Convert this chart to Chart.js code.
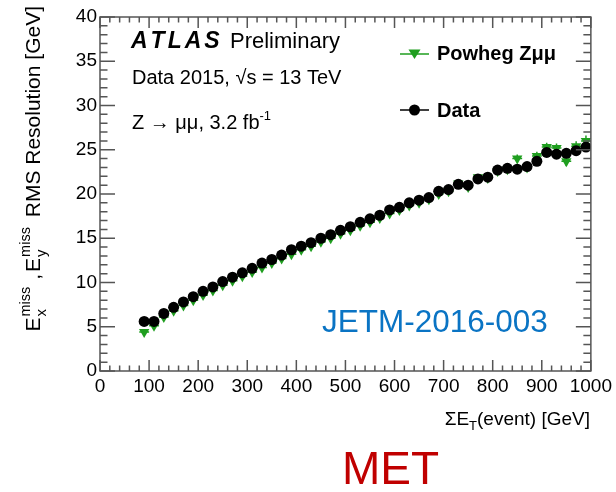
<!DOCTYPE html>
<html>
<head>
<meta charset="utf-8">
<script src="https://cdn.jsdelivr.net/npm/chart.js@4"></script>
<style>
  html, body { margin: 0; padding: 0; background: #fff; }
  #wrap { width: 616px; height: 492px; }
</style>
</head>
<body>
<div id="wrap"><canvas id="metChart" width="616" height="492"></canvas></div>
<script>
/* ========= DATA ========= */
const sumEt = [90, 110, 130, 150, 170, 190, 210, 230, 250, 270, 290, 310, 330, 350, 370, 390,
  410, 430, 450, 470, 490, 510, 530, 550, 570, 590, 610, 630, 650, 670, 690, 710, 730, 750,
  770, 790, 810, 830, 850, 870, 890, 910, 930, 950, 970, 990];

const dataRms = [5.6, 5.6, 6.5, 7.2, 7.8, 8.4, 9.0, 9.5, 10.1, 10.6, 11.1, 11.6, 12.2, 12.6, 13.1, 13.7,
  14.1, 14.5, 15.0, 15.4, 15.9, 16.3, 16.8, 17.2, 17.6, 18.2, 18.5, 19.0, 19.3, 19.6, 20.3, 20.5, 21.1, 21.0,
  21.7, 21.9, 22.7, 22.9, 22.8, 23.1, 23.7, 24.7, 24.5, 24.6, 24.9, 25.3];
const dataErr = [0.05, 0.05, 0.05, 0.05, 0.05, 0.05, 0.05, 0.05, 0.05, 0.06, 0.06, 0.06, 0.07, 0.07, 0.07, 0.08,
  0.08, 0.08, 0.09, 0.09, 0.1, 0.1, 0.1, 0.11, 0.12, 0.12, 0.13, 0.14, 0.14, 0.15, 0.16, 0.17, 0.18, 0.19,
  0.2, 0.21, 0.22, 0.23, 0.24, 0.25, 0.26, 0.28, 0.29, 0.3, 0.31, 0.33];

const mcRms = [4.4, 5.1, 6.1, 6.8, 7.4, 8.0, 8.6, 9.1, 9.7, 10.2, 10.7, 11.2, 11.7, 12.2, 12.7, 13.2,
  13.7, 14.1, 14.6, 15.0, 15.5, 15.9, 16.4, 16.8, 17.3, 17.8, 18.2, 18.7, 19.0, 19.4, 20.0, 20.3, 21.2, 20.8,
  21.9, 21.8, 22.6, 22.8, 24.0, 23.0, 24.3, 25.3, 25.2, 23.7, 25.4, 26.0];
const mcErr = [0.2, 0.15, 0.12, 0.12, 0.12, 0.12, 0.12, 0.12, 0.12, 0.13, 0.13, 0.13, 0.14, 0.14, 0.15, 0.15,
  0.16, 0.16, 0.17, 0.18, 0.18, 0.19, 0.2, 0.21, 0.22, 0.23, 0.24, 0.25, 0.26, 0.27, 0.28, 0.3, 0.31, 0.33,
  0.35, 0.37, 0.39, 0.41, 0.45, 0.45, 0.48, 0.5, 0.5, 0.55, 0.55, 0.6];

const binHalf = 10;
const xTickStep = 100;
const yTickStep = 5;

const FONT = "'Liberation Sans', Arial, Helvetica, sans-serif";
const GREEN = "#1f9e1f";
const FRAME = "#555";

/* ========= HELPERS ========= */
// text runs {t, size, bold, italic, dx, dy, gap, ls, stay} drawn left to right
function setFont(ctx, p) {
  ctx.font = (p.italic ? "italic " : "") + (p.bold ? "bold " : "") + p.size + "px " + FONT;
}
function partWidth(ctx, p) {
  if (p.stay) return 0; // subscript under a following superscript
  setFont(ctx, p);
  return ctx.measureText(p.t).width + (p.ls || 0) * (p.t.length - 1);
}
function runWidth(ctx, parts) {
  return parts.reduce((w, p) => w + partWidth(ctx, p) + (p.gap || 0), 0);
}
function drawRuns(ctx, parts, x, y, color) {
  ctx.fillStyle = color;
  ctx.textBaseline = "alphabetic";
  ctx.textAlign = "left";
  for (const p of parts) {
    setFont(ctx, p);
    if (p.ls) {
      let cx = x + (p.dx || 0);
      for (const ch of p.t) {
        ctx.fillText(ch, cx, y + (p.dy || 0));
        cx += ctx.measureText(ch).width + p.ls;
      }
    } else {
      ctx.fillText(p.t, x + (p.dx || 0), y + (p.dy || 0));
    }
    x += partWidth(ctx, p) + (p.gap || 0);
  }
}

/* ========= ERROR BARS ========= */
const errorBars = {
  id: "errorBars",
  beforeDatasetsDraw(chart) {
    const { ctx, scales: { x, y } } = chart;
    const sets = [[mcRms, mcErr, GREEN], [dataRms, dataErr, "#000"]];
    ctx.save();
    ctx.lineWidth = 1.5;
    for (const [vals, errs, col] of sets) {
      ctx.strokeStyle = col;
      ctx.beginPath();
      vals.forEach((v, i) => {
        const px = x.getPixelForValue(sumEt[i]);
        const py = y.getPixelForValue(v);
        ctx.moveTo(px, y.getPixelForValue(v - errs[i]));
        ctx.lineTo(px, y.getPixelForValue(v + errs[i]));
        ctx.moveTo(x.getPixelForValue(sumEt[i] - binHalf), py);
        ctx.lineTo(x.getPixelForValue(sumEt[i] + binHalf), py);
      });
      ctx.stroke();
    }
    ctx.restore();
  }
};

/* ========= FRAME, TICKS, TEXT ========= */
const decorations = {
  id: "decorations",
  afterDraw(chart) {
    const { ctx, chartArea: a, scales: { x, y } } = chart;
    ctx.save();

    // frame + inward ticks (ROOT style)
    ctx.strokeStyle = FRAME;
    ctx.lineWidth = 1.5;
    ctx.strokeRect(a.left, a.top, a.right - a.left, a.bottom - a.top);
    ctx.beginPath();
    for (let v = 0; v <= 1000; v += 20) {
      const px = x.getPixelForValue(v);
      const len = v % xTickStep === 0 ? 11 : 5.5;
      ctx.moveTo(px, a.bottom); ctx.lineTo(px, a.bottom - len);
      ctx.moveTo(px, a.top); ctx.lineTo(px, a.top + len);
    }
    for (let v = 0; v <= 40; v += 1) {
      const py = y.getPixelForValue(v);
      const len = v % yTickStep === 0 ? 15 : 7.5;
      ctx.moveTo(a.left, py); ctx.lineTo(a.left + len, py);
      ctx.moveTo(a.right, py); ctx.lineTo(a.right - len, py);
    }
    ctx.stroke();

    // ATLAS label
    drawRuns(ctx, [
      { t: "ATLAS", size: 23, bold: true, italic: true, ls: 3, gap: 12 },
      { t: "Preliminary", size: 22 }
    ], 131, 48, "#000");
    drawRuns(ctx, [{ t: "Data 2015, \u221As = 13 TeV", size: 20 }], 132, 84, "#000");
    drawRuns(ctx, [
      { t: "Z \u2192 \u03bc\u03bc, 3.2 fb", size: 20 },
      { t: "-1", size: 13, dy: -9 }
    ], 132, 129, "#000");

    // legend
    ctx.lineWidth = 1.5;
    ctx.strokeStyle = GREEN;
    ctx.beginPath(); ctx.moveTo(400, 54); ctx.lineTo(429, 54); ctx.stroke();
    ctx.fillStyle = GREEN;
    ctx.beginPath(); ctx.moveTo(408.5, 49.5); ctx.lineTo(420.5, 49.5); ctx.lineTo(414.5, 59); ctx.closePath(); ctx.fill();
    ctx.strokeStyle = "#000";
    ctx.beginPath(); ctx.moveTo(400, 110); ctx.lineTo(429, 110); ctx.stroke();
    ctx.fillStyle = "#000";
    ctx.beginPath(); ctx.arc(414.5, 110, 5.5, 0, Math.PI * 2); ctx.fill();
    drawRuns(ctx, [{ t: "Powheg Z\u03bc\u03bc", size: 20, bold: true }], 437, 60, "#000");
    drawRuns(ctx, [{ t: "Data", size: 20, bold: true }], 437, 117, "#000");

    // x axis title, right aligned
    const xt = [
      { t: "\u03a3E", size: 19 },
      { t: "T", size: 13, dy: 5 },
      { t: "(event) [GeV]", size: 19 }
    ];
    drawRuns(ctx, xt, 590 - runWidth(ctx, xt), 425, "#000");

    // y axis title, rotated, right aligned at top
    const yt = [
      { t: "E", size: 21, gap: 1 },
      { t: "x", size: 15, dy: 6, stay: true },
      { t: "miss", size: 14.5, dy: -10, gap: 7 },
      { t: ",", size: 21, gap: 2 },
      { t: "E", size: 21, gap: 1 },
      { t: "y", size: 15, dy: 6, stay: true },
      { t: "miss", size: 14.5, dy: -10, gap: 4 },
      { t: " RMS Resolution [GeV]", size: 21 }
    ];
    ctx.translate(40, 6);
    ctx.rotate(-Math.PI / 2);
    drawRuns(ctx, yt, -runWidth(ctx, yt), 0, "#000");
    ctx.setTransform(1, 0, 0, 1, 0, 0);

    // reference tags
    drawRuns(ctx, [{ t: "JETM-2016-003", size: 31.5 }], 322, 332, "#0a74c4");
    drawRuns(ctx, [{ t: "MET", size: 46 }], 342, 484, "#c00000");
    ctx.restore();
  }
};

/* ========= CHART ========= */
let metChart;
function initChart() {
  metChart = new Chart(document.getElementById("metChart"), {
    type: "scatter",
    data: {
      datasets: [
        {
          label: "Powheg Z\u03bc\u03bc",
          data: sumEt.map((v, i) => ({ x: v, y: mcRms[i] })),
          pointStyle: "triangle",
          rotation: 180,
          pointRadius: 6,
          backgroundColor: GREEN,
          borderColor: GREEN,
          borderWidth: 0,
          order: 2
        },
        {
          label: "Data",
          data: sumEt.map((v, i) => ({ x: v, y: dataRms[i] })),
          pointStyle: "circle",
          pointRadius: 5.5,
          backgroundColor: "#000",
          borderColor: "#000",
          borderWidth: 0,
          order: 1
        }
      ]
    },
    options: {
      responsive: false,
      animation: false,
      devicePixelRatio: 1,
      layout: { padding: { top: 17, right: 22, bottom: 0, left: 0 } },
      plugins: { legend: { display: false }, tooltip: { enabled: false } },
      scales: {
        x: {
          type: "linear",
          min: 0, max: 1000,
          grid: { display: false, drawTicks: false },
          border: { display: false },
          ticks: { stepSize: xTickStep, maxRotation: 0, autoSkip: false, padding: 4,
            color: "#000", font: { family: FONT, size: 19 }, callback: v => String(v) },
          afterFit: s => { s.height = 121; }
        },
        y: {
          min: 0, max: 40,
          grid: { display: false, drawTicks: false },
          border: { display: false },
          ticks: { stepSize: yTickStep, padding: 3, color: "#000", font: { family: FONT, size: 19 },
            callback: v => String(v) },
          afterFit: s => { s.width = 100; }
        }
      }
    },
    plugins: [errorBars, decorations]
  });
}

window.onload = initChart;
</script>
</body>
</html>
